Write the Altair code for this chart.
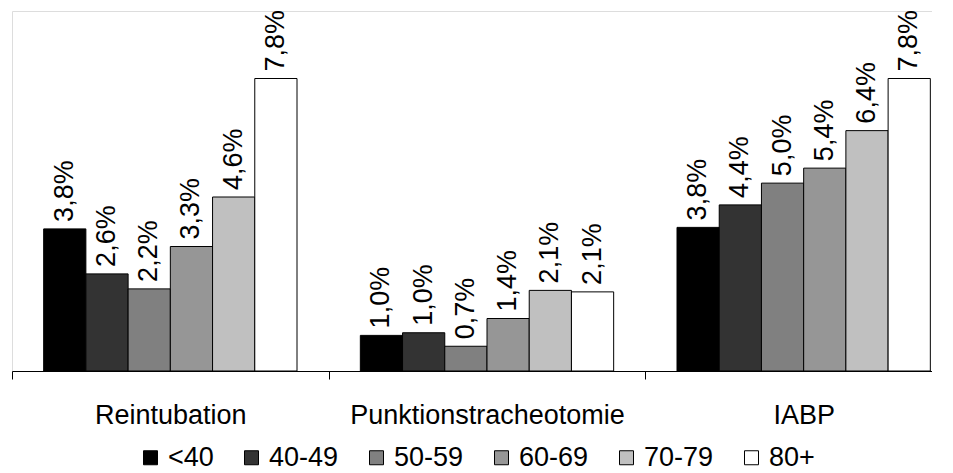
import altair as alt
import pandas as pd

categories = ["Reintubation", "Punktionstracheotomie", "IABP"]
age_groups = ["<40", "40-49", "50-59", "60-69", "70-79", "80+"]
colors = ["#000000", "#333333", "#808080", "#969696", "#C0C0C0", "#FFFFFF"]

# bar heights (percent)
reintubation = [3.79, 2.59, 2.19, 3.32, 4.64, 7.80]
punktion = [0.95, 1.02, 0.66, 1.40, 2.15, 2.11]
iabp = [3.83, 4.43, 5.01, 5.41, 6.41, 7.80]

# printed labels
reintubation_lbl = ["3,8%", "2,6%", "2,2%", "3,3%", "4,6%", "7,8%"]
punktion_lbl = ["1,0%", "1,0%", "0,7%", "1,4%", "2,1%", "2,1%"]
iabp_lbl = ["3,8%", "4,4%", "5,0%", "5,4%", "6,4%", "7,8%"]

rows = []
for cat, vals, lbls in [
    ("Reintubation", reintubation, reintubation_lbl),
    ("Punktionstracheotomie", punktion, punktion_lbl),
    ("IABP", iabp, iabp_lbl),
]:
    for g, v, l in zip(age_groups, vals, lbls):
        rows.append({"cat": cat, "age": g, "value": v, "label": l})
df = pd.DataFrame(rows)

FONT = "Liberation Sans"

x = alt.X(
    "cat:N",
    sort=categories,
    scale=alt.Scale(paddingInner=0, paddingOuter=0, range=[0, 950]),
    axis=alt.Axis(
        title=None,
        labelAngle=0,
        labelFontSize=27,
        labelFont=FONT,
        labelColor="black",
        labelPadding=23,
        labelLimit=0,
        tickBand="extent",
        tickSize=8,
        tickColor="black",
        domainColor="black",
        tickWidth=1,
        domainWidth=1,
        grid=False,
    ),
)
xoff = alt.XOffset(
    "age:N", sort=age_groups, scale=alt.Scale(paddingInner=0, paddingOuter=0.75)
)
y = alt.Y("value:Q", scale=alt.Scale(domain=[0, 9.6], nice=False), axis=None)

bars = alt.Chart(df).mark_bar(stroke="black", strokeWidth=1).encode(
    x=x,
    xOffset=xoff,
    y=y,
    fill=alt.Fill(
        "age:N",
        sort=age_groups,
        scale=alt.Scale(domain=age_groups, range=colors),
        legend=alt.Legend(
            title=None,
            orient="none",
            direction="horizontal",
            legendX=125,
            legendY=433,
            symbolType="square",
            symbolSize=196,
            symbolStrokeColor="black",
            symbolStrokeWidth=1,
            labelFontSize=27,
            labelFont=FONT,
            labelColor="black",
            labelOffset=4,
            columnPadding=24,
        ),
    ),
)

labels = alt.Chart(df).mark_text(
    angle=270, align="left", baseline="middle", dx=7,
    fontSize=27, font=FONT, color="black"
).encode(x=x, xOffset=xoff, y=y, text="label:N")

chart = (
    alt.layer(bars, labels)
    .properties(
        width=920,
        height=360,
        autosize=alt.AutoSizeParams(type="none"),
        padding={"left": 4, "top": 3, "right": 0, "bottom": 100},
    )
    .configure_view(strokeWidth=0, strokeOpacity=0, stroke="white", fill="white")
    .configure(background="white")
)

chart.save("out.html", embed_options={"renderer": "svg", "actions": False})
